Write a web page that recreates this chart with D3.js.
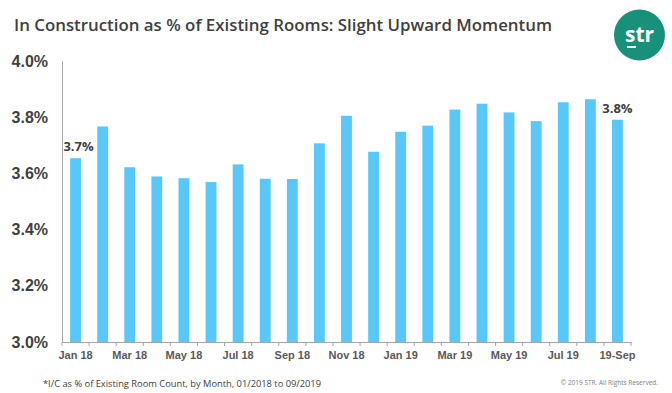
<!DOCTYPE html>
<html>
<head>
<meta charset="utf-8">
<script src="https://cdn.jsdelivr.net/npm/d3@7"></script>
<style>
  html, body { margin: 0; padding: 0; background: #fff; }
  svg { display: block; }
</style>
</head>
<body>
<script>
const categories = ["Jan 18","Feb 18","Mar 18","Apr 18","May 18","Jun 18","Jul 18","Aug 18","Sep 18","Oct 18","Nov 18","Dec 18",
  "Jan 19","Feb 19","Mar 19","Apr 19","May 19","Jun 19","Jul 19","Aug 19","19-Sep"];
const values = [3.654,3.767,3.622,3.589,3.583,3.569,3.632,3.581,3.580,3.707,3.805,3.677,
  3.748,3.770,3.827,3.848,3.817,3.786,3.853,3.864,3.791];
const yTicks = [3.0,3.2,3.4,3.6,3.8,4.0];
const labelEvery = 2;
const annotations = [{index: 0, text: "3.7%"}, {index: 20, text: "3.8%"}];
const title = "In Construction as % of Existing Rooms: Slight Upward Momentum";
const footnote = "*I/C as % of Existing Room Count, by Month, 01/2018 to 09/2019";
const copyright = "\u00A9 2019 STR. All Rights Reserved.";

const W = 672, H = 393;
const svg = d3.select("body").append("svg").attr("width", W).attr("height", H);

const x = d3.scaleBand().domain(categories).range([62, 631]).paddingInner(0.6).paddingOuter(0.3);
const y = d3.scaleLinear().domain([3.0, 4.0]).range([342, 61]);

// title
svg.append("text").attr("x", 14).attr("y", 31)
  .attr("font-family", "'Open Sans', sans-serif").attr("font-weight", 600)
  .attr("font-size", 16).attr("fill", "#404040")
  .attr("textLength", 538).attr("lengthAdjust", "spacingAndGlyphs")
  .text(title);

// logo
const logo = svg.append("g");
logo.append("circle").attr("cx", 639.5).attr("cy", 35).attr("r", 25.5).attr("fill", "#17917a");
logo.append("text").attr("x", 639.5).attr("y", 42).attr("text-anchor", "middle")
  .attr("font-family", "'Open Sans', sans-serif").attr("font-weight", 700)
  .attr("font-size", 21).attr("fill", "#fff").text("str");
logo.append("rect").attr("x", 627).attr("y", 46).attr("width", 9).attr("height", 2).attr("fill", "#fff");

// bars
svg.append("g").selectAll("rect").data(values).join("rect")
  .attr("x", (d, i) => x(categories[i]))
  .attr("width", x.bandwidth())
  .attr("y", d => y(d))
  .attr("height", d => y(3.0) - y(d))
  .attr("fill", "#57c8f9");

// y axis
const yAxis = d3.axisLeft(y).tickValues(yTicks).tickFormat(d => d.toFixed(1) + "%").tickSize(0).tickPadding(14);
const gy = svg.append("g").attr("transform", "translate(62,0)").call(yAxis);
gy.select(".domain").attr("stroke", "#a6a6a6");
gy.selectAll(".tick text").attr("font-family", "'Liberation Sans', Arial, sans-serif")
  .attr("font-weight", 700).attr("font-size", 16).attr("fill", "#404040");

// x axis
const xAxis = d3.axisBottom(x).tickSize(0).tickPadding(9)
  .tickFormat((d, i) => i % labelEvery === 0 ? d : "");
const gx = svg.append("g").attr("transform", "translate(0,342)").call(xAxis);
gx.select(".domain").attr("stroke", "#a6a6a6");
gx.selectAll(".tick text").attr("font-family", "'Liberation Sans', Arial, sans-serif")
  .attr("font-weight", 700).attr("font-size", 11).attr("fill", "#595959");
// tick marks at category boundaries
const step = x.step();
const boundaries = d3.range(categories.length + 1).map(i => 62 + i * (569 / categories.length));
gx.selectAll("line.bnd").data(boundaries).join("line").attr("class", "bnd")
  .attr("x1", d => d).attr("x2", d => d).attr("y1", 0).attr("y2", 4)
  .attr("stroke", "#a6a6a6");

// annotations
svg.append("g").selectAll("text").data(annotations).join("text")
  .attr("x", d => x(categories[d.index]) + x.bandwidth() / 2 + (d.index === 0 ? 3 : 0))
  .attr("y", d => y(values[d.index]) - 7)
  .attr("text-anchor", "middle")
  .attr("font-family", "'Open Sans', sans-serif").attr("font-weight", 700)
  .attr("font-size", 13).attr("fill", "#404040")
  .text(d => d.text);

// footnote
svg.append("text").attr("x", 43).attr("y", 387)
  .attr("font-family", "'Open Sans', sans-serif").attr("font-size", 9.5).attr("fill", "#404040")
  .attr("textLength", 278).attr("lengthAdjust", "spacingAndGlyphs")
  .text(footnote);
svg.append("text").attr("x", 658).attr("y", 385).attr("text-anchor", "end")
  .attr("font-family", "'Open Sans', sans-serif").attr("font-size", 6.5).attr("fill", "#7f7f7f")
  .text(copyright);
</script>
</body>
</html>
